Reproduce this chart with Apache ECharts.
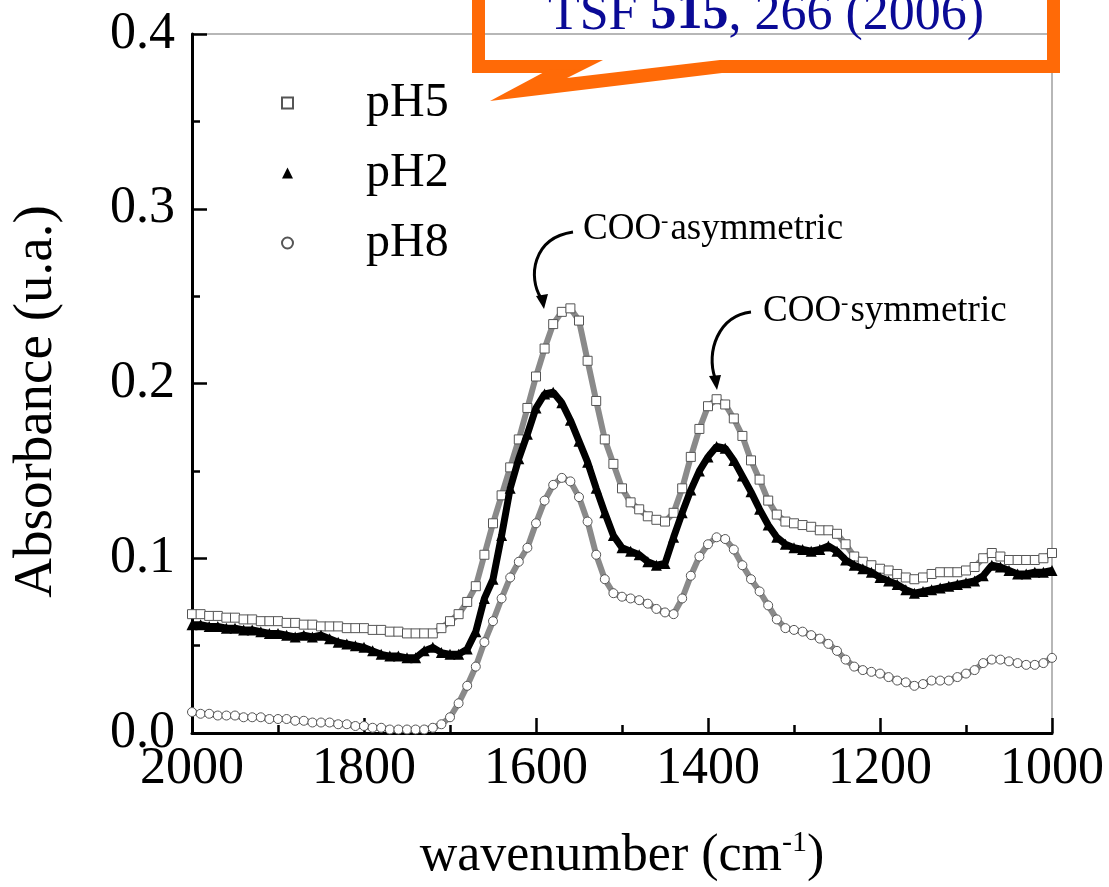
<!DOCTYPE html>
<html>
<head>
    <meta charset="utf-8">
    <title>IR absorbance</title>
    <style>
        html, body { margin: 0; padding: 0; background: #fff; }
        #chart { width: 1109px; height: 887px; }
    </style>
    <script src="https://cdn.jsdelivr.net/npm/echarts@6/dist/echarts.min.js"></script>
</head>
<body>
<div id="chart"></div>
<script>
    // wavenumber (cm-1), one reading every 10 cm-1
    const wavenumber = [
        2000, 1990, 1980, 1970, 1960, 1950, 1940, 1930, 1920, 1910,
        1900, 1890, 1880, 1870, 1860, 1850, 1840, 1830, 1820, 1810,
        1800, 1790, 1780, 1770, 1760, 1750, 1740, 1730, 1720, 1710,
        1700, 1690, 1680, 1670, 1660, 1650, 1640, 1630, 1620, 1610,
        1600, 1590, 1580, 1570, 1560, 1550, 1540, 1530, 1520, 1510,
        1500, 1490, 1480, 1470, 1460, 1450, 1440, 1430, 1420, 1410,
        1400, 1390, 1380, 1370, 1360, 1350, 1340, 1330, 1320, 1310,
        1300, 1290, 1280, 1270, 1260, 1250, 1240, 1230, 1220, 1210,
        1200, 1190, 1180, 1170, 1160, 1150, 1140, 1130, 1120, 1110,
        1100, 1090, 1080, 1070, 1060, 1050, 1040, 1030, 1020, 1010,
        1000
    ];
    const pH5 = [
        .068, .068, .067, .067, .066, .066, .065, .065, .064, .064,
        .064, .063, .063, .062, .062, .061, .061, .061, .060, .060,
        .060, .059, .059, .058, .058, .057, .057, .057, .057, .060,
        .064, .068, .075, .084, .102, .120, .136, .152, .168, .186,
        .204, .220, .234, .241, .243, .236, .213, .190, .168, .154,
        .140, .132, .128, .124, .122, .121, .126, .140, .158, .174,
        .187, .191, .188, .180, .170, .156, .145, .133, .125, .121,
        .120, .119, .118, .116, .116, .114, .108, .101, .098, .096,
        .094, .093, .091, .089, .088, .089, .091, .092, .092, .092,
        .093, .095, .100, .103, .101, .099, .099, .099, .099, .100,
        .103
    ];
    const pH2 = [
        .062, .062, .061, .061, .060, .060, .059, .059, .058, .057,
        .057, .056, .055, .056, .055, .056, .054, .052, .051, .050,
        .049, .047, .045, .044, .044, .043, .043, .047, .049, .046,
        .045, .045, .048, .058, .077, .088, .113, .140, .157, .171,
        .186, .194, .195, .189, .179, .167, .155, .140, .126, .113,
        .106, .104, .102, .098, .096, .097, .112, .126, .139, .150,
        .158, .164, .163, .156, .147, .138, .128, .119, .112, .108,
        .106, .105, .104, .105, .107, .104, .099, .096, .094, .092,
        .089, .087, .085, .082, .080, .081, .082, .083, .084, .085,
        .086, .087, .090, .096, .095, .093, .091, .091, .092, .092,
        .093
    ];
    const pH8 = [
        .012, .011, .011, .010, .010, .010, .009, .009, .009, .008,
        .008, .008, .007, .007, .006, .006, .006, .005, .005, .004,
        .004, .003, .003, .002, .002, .002, .002, .002, .003, .005,
        .009, .017, .027, .038, .052, .064, .077, .089, .098, .106,
        .120, .133, .142, .146, .144, .135, .121, .102, .088, .080,
        .078, .077, .076, .074, .071, .069, .068, .077, .090, .101,
        .108, .112, .111, .105, .096, .088, .081, .073, .065, .060,
        .059, .058, .056, .054, .051, .047, .042, .038, .036, .035,
        .034, .032, .030, .029, .027, .028, .030, .030, .030, .032,
        .034, .036, .040, .042, .042, .041, .040, .039, .039, .040,
        .043
    ];

    const serif = '"Liberation Serif", "Times New Roman", serif';

    function pairs(ys) {
        return wavenumber.map(function (w, i) { return [w, ys[i]]; });
    }

    // bare axes carrying only the long major ticks
    const tickOnly = {
        axisLine: { show: false },
        axisLabel: { show: false },
        splitLine: { show: false },
        axisTick: { show: true, inside: true, length: 15, lineStyle: { color: '#000', width: 2.5 } }
    };

    const chart = echarts.init(document.getElementById('chart'));

    chart.setOption({
        animation: false,
        grid: {
            left: 192, right: 57, top: 34, bottom: 151,
            show: true, borderColor: '#a0a0a0', borderWidth: 1.5
        },
        xAxis: [{
            type: 'value',
            inverse: true,
            min: 1000, max: 2000, interval: 200,
            name: 'wavenumber (cm{sup|-1})',
            nameLocation: 'middle',
            nameGap: 95,
            nameTextStyle: {
                fontSize: 52, fontFamily: serif, color: '#000',
                rich: { sup: { fontSize: 30, fontFamily: serif, color: '#000', verticalAlign: 'top', padding: [0, 0, 26, 0] } }
            },
            axisLine: { lineStyle: { color: '#000', width: 3 } },
            axisTick: { show: true, inside: true, length: 15, lineStyle: { color: '#000', width: 2.5 } },
            minorTick: { show: true, splitNumber: 2, length: 8, lineStyle: { color: '#000', width: 2.5 } },
            axisLabel: {
                fontSize: 52, fontFamily: serif, color: '#000', margin: 10,
                formatter: function (v) { return String(v); }
            },
            splitLine: { show: false }
        }, Object.assign({
            type: 'value', inverse: true, position: 'bottom',
            min: 1000, max: 2000, interval: 200
        }, tickOnly)],
        yAxis: [{
            type: 'value',
            min: 0, max: 0.4, interval: 0.1,
            name: 'Absorbance (u.a.)',
            nameLocation: 'middle',
            nameGap: 128,
            nameTextStyle: { fontSize: 55, fontFamily: serif, color: '#000', padding: [0, 36, 0, 0] },
            axisLine: { show: true, lineStyle: { color: '#000', width: 3 } },
            axisTick: { show: true, inside: true, length: 15, lineStyle: { color: '#000', width: 2.5 } },
            minorTick: { show: true, splitNumber: 2, length: 8, lineStyle: { color: '#000', width: 2.5 } },
            axisLabel: {
                fontSize: 52, fontFamily: serif, color: '#000', margin: 17,
                formatter: function (v) { return v.toFixed(1); }
            },
            splitLine: { show: false }
        }, Object.assign({
            type: 'value', position: 'left',
            min: 0, max: 0.4, interval: 0.1
        }, tickOnly)],
        legend: {
            orient: 'vertical',
            left: 276, top: 74,
            itemWidth: 11, itemHeight: 11,
            itemGap: 22,
            textStyle: { fontSize: 48, fontFamily: serif, color: '#000', lineHeight: 48, padding: [0, 0, 0, 68] },
            data: [
                { name: 'pH5', icon: 'rect' },
                { name: 'pH2', icon: 'triangle' },
                { name: 'pH8', icon: 'circle' }
            ]
        },
        series: [
            {
                name: 'pH5', type: 'line', data: pairs(pH5),
                symbol: 'rect', symbolSize: 9,
                itemStyle: { color: '#fff', borderColor: '#555', borderWidth: 1 },
                lineStyle: { color: '#8a8a8a', width: 6 },
                z: 2
            },
            {
                name: 'pH2', type: 'line', data: pairs(pH2),
                symbol: 'triangle', symbolSize: 11,
                itemStyle: { color: '#000', borderColor: '#000', borderWidth: 0 },
                lineStyle: { color: '#000', width: 7 },
                z: 3
            },
            {
                name: 'pH8', type: 'line', data: pairs(pH8),
                symbol: 'circle', symbolSize: 9,
                itemStyle: { color: '#fff', borderColor: '#555', borderWidth: 1 },
                lineStyle: { color: '#8a8a8a', width: 6 },
                z: 2
            }
        ],
        graphic: [
            // citation callout box
            {
                type: 'rect', z: 100,
                shape: { x: 478.5, y: -40, width: 575, height: 106.5 },
                style: { fill: 'none', stroke: '#ff6a07', lineWidth: 13 }
            },
            {
                type: 'polygon', z: 100,
                shape: { points: [[548, 70], [490, 101], [722, 73], [722, 67]] },
                style: { fill: '#ff6a07' }
            },
            {
                type: 'polygon', z: 101,
                shape: { points: [[603, 60], [567, 78], [720, 60]] },
                style: { fill: '#fff' }
            },
            {
                type: 'text', z: 102,
                style: {
                    x: 766, y: 41, align: 'center', verticalAlign: 'bottom',
                    text: 'TSF {b|515}, 266 (2006)',
                    font: '52px ' + serif, fill: '#0a0a96',
                    rich: { b: { font: 'bold 52px ' + serif, fill: '#0a0a96' } }
                }
            },
            // peak labels
            {
                type: 'text', z: 50,
                style: {
                    x: 583, y: 229, verticalAlign: 'middle',
                    text: 'COO{s|-}asymmetric',
                    font: '37px ' + serif, fill: '#000',
                    rich: { s: { font: '22px ' + serif, fill: '#000', verticalAlign: 'top', padding: [0, 2, 16, 0] } }
                }
            },
            {
                type: 'text', z: 50,
                style: {
                    x: 763, y: 311, verticalAlign: 'middle',
                    text: 'COO{s|-}symmetric',
                    font: '37px ' + serif, fill: '#000',
                    rich: { s: { font: '22px ' + serif, fill: '#000', verticalAlign: 'top', padding: [0, 2, 16, 0] } }
                }
            },
            {
                type: 'bezierCurve', z: 50,
                shape: { x1: 573, y1: 232, cpx1: 532, cpy1: 238, cpx2: 528, cpy2: 278, x2: 541, y2: 298 },
                style: { stroke: '#000', lineWidth: 3, fill: 'none' }
            },
            {
                type: 'polygon', z: 50,
                shape: { points: [[536, 296], [548, 294], [544, 309]] },
                style: { fill: '#000' }
            },
            {
                type: 'bezierCurve', z: 50,
                shape: { x1: 751, y1: 312, cpx1: 718, cpy1: 316, cpx2: 706, cpy2: 352, x2: 715, y2: 378 },
                style: { stroke: '#000', lineWidth: 3, fill: 'none' }
            },
            {
                type: 'polygon', z: 50,
                shape: { points: [[709, 376], [721, 375], [717, 390]] },
                style: { fill: '#000' }
            }
        ]
    });
</script>
</body>
</html>
